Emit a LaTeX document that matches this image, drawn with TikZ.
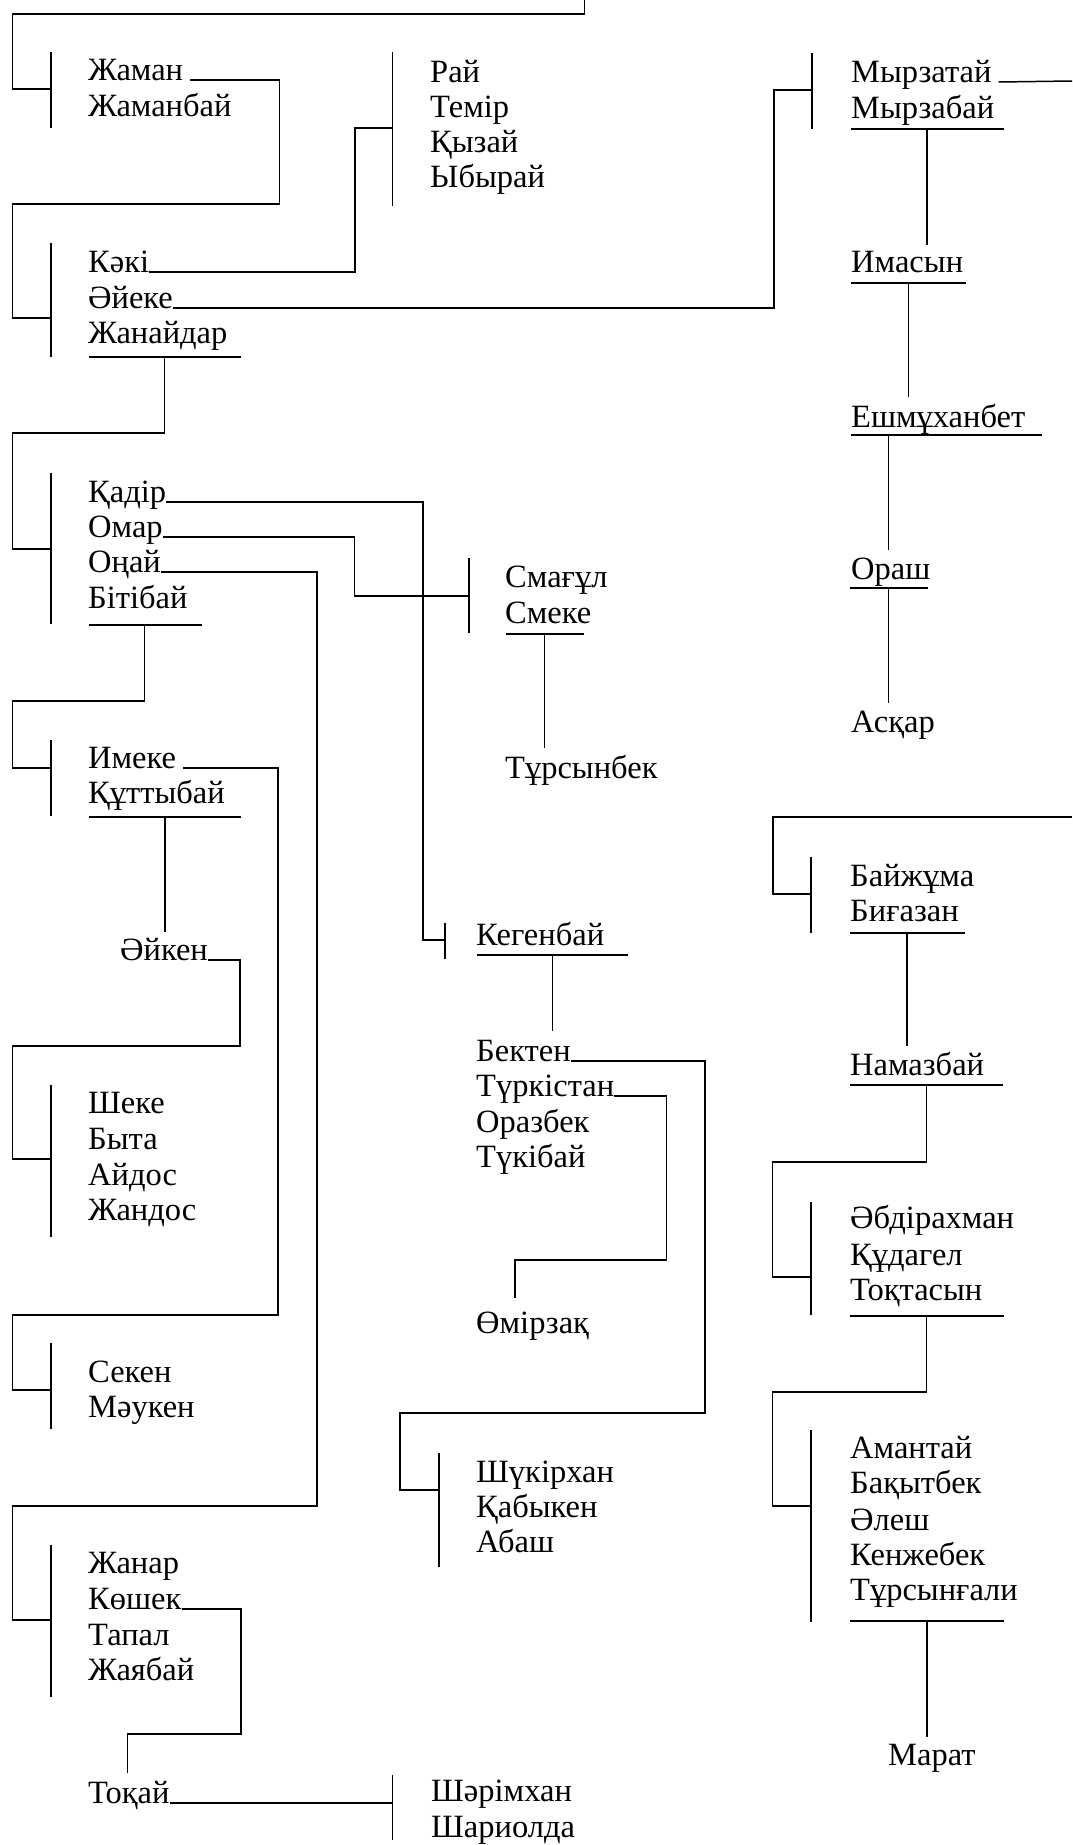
\documentclass[tikz,border=0pt]{standalone}
\usepackage{fontspec}
\setmainfont{Liberation Serif}
\usetikzlibrary{positioning}

\begin{document}
\begin{tikzpicture}[
  x=1pt,y=-1pt,
  font=\fontsize{32.5}{36}\selectfont,
  kin/.style={anchor=base west,inner sep=0pt},
  link/.style={line width=1.5pt},
  gap/.style={xshift=7pt}
]
\useasboundingbox (0,0) rectangle (1073,1845);

% names, left column
\node[kin] (zhaman) at (88,80) {Жаман};
\node[kin] (zhamanbai) at (88,116) {Жаманбай};
\node[kin] (kaki) at (88,272) {Кәкі};
\node[kin] (aieke) at (88,308) {Әйеке};
\node[kin] (zhanaidar) at (88,343) {Жанайдар};
\node[kin] (kadir) at (88,502) {Қадір};
\node[kin] (omar) at (88,537) {Омар};
\node[kin] (onai) at (88,572) {Оңай};
\node[kin] (bitibai) at (88,608) {Бітібай};
\node[kin] (imeke) at (88,768) {Имеке};
\node[kin] (kuttybai) at (88,803) {Құттыбай};
\node[kin] (aiken) at (120,960) {Әйкен};
\node[kin] (sheke) at (88,1113) {Шеке};
\node[kin] (byta) at (88,1149) {Быта};
\node[kin] (aidos) at (88,1185) {Айдос};
\node[kin] (zhandos) at (88,1220) {Жандос};
\node[kin] (seken) at (88,1382) {Секен};
\node[kin] (mauken) at (88,1417) {Мәукен};
\node[kin] (zhanar) at (88,1573) {Жанар};
\node[kin] (koshek) at (88,1609) {Көшек};
\node[kin] (tapal) at (88,1645) {Тапал};
\node[kin] (zhayabai) at (88,1680) {Жаябай};
\node[kin] (tokai) at (88,1803) {Тоқай};

% names, middle
\node[kin] (rai) at (430,82) {Рай};
\node[kin] (temir) at (430,117) {Темір};
\node[kin] (qyzai) at (430,152) {Қызай};
\node[kin] (ybyrai) at (430,187) {Ыбырай};
\node[kin] (smagul) at (505,587) {Смағұл};
\node[kin] (smeke) at (505,623) {Смеке};
\node[kin] (tursynbek) at (505,778) {Тұрсынбек};
\node[kin] (kegenbai) at (476,945) {Кегенбай};
\node[kin] (bekten) at (476,1061) {Бектен};
\node[kin] (turkistan) at (476,1096) {Түркістан};
\node[kin] (orazbek) at (476,1132) {Оразбек};
\node[kin] (tukibai) at (476,1167) {Түкібай};
\node[kin] (omirzak) at (476,1333) {Өмірзақ};
\node[kin] (shukirkhan) at (476,1482) {Шүкірхан};
\node[kin] (kabyken) at (476,1517) {Қабыкен};
\node[kin] (abash) at (476,1552) {Абаш};
\node[kin] (sharimkhan) at (431,1801) {Шәрімхан};
\node[kin] (shariolda) at (431,1837) {Шариолда};

% names, right column
\node[kin] (myrzatai) at (851,82) {Мырзатай};
\node[kin] (myrzabai) at (851,118) {Мырзабай};
\node[kin] (imasyn) at (851,272) {Имасын};
\node[kin] (eshmukhanbet) at (851,427) {Ешмұханбет};
\node[kin] (orash) at (851,579) {Ораш};
\node[kin] (askar) at (851,732) {Асқар};
\node[kin] (baizhuma) at (850,886) {Байжұма};
\node[kin] (bigazan) at (850,921) {Биғазан};
\node[kin] (namazbai) at (850,1075) {Намазбай};
\node[kin] (abdirakhman) at (850,1228) {Әбдірахман};
\node[kin] (kudagel) at (850,1265) {Құдагел};
\node[kin] (toktasyn) at (850,1300) {Тоқтасын};
\node[kin] (amantai) at (850,1458) {Амантай};
\node[kin] (bakytbek) at (850,1493) {Бақытбек};
\node[kin] (alesh) at (850,1530) {Әлеш};
\node[kin] (kenzhebek) at (850,1565) {Кенжебек};
\node[kin] (tursyngali) at (850,1600) {Тұрсынғали};
\node[kin] (marat) at (888,1765) {Марат};

% loose ends at the page edge
\coordinate (topend) at (584.7,0);
\coordinate (myrzaend) at (1072,81);
\coordinate (baizhend) at (1072,817);

% brackets
\draw[link] (51,52) -- (51,128);
\draw[link] (51,243) -- (51,357);
\draw[link] (392.6,52) -- (392.6,206);
\draw[link] (812,53) -- (812,129);
\draw[link] (51,473) -- (51,624);
\draw[link] (469,558) -- (469,633);
\draw[link] (51,740) -- (51,816);
\draw[link] (445,923) -- (445,959);
\draw[link] (51,1085) -- (51,1237);
\draw[link] (51,1343) -- (51,1429);
\draw[link] (439,1453) -- (439,1567);
\draw[link] (51,1545) -- (51,1697);
\draw[link] (392.6,1775) -- (392.6,1840);
\draw[link] (811,857) -- (811,933);
\draw[link] (811,1202) -- (811,1315);
\draw[link] (811,1430) -- (811,1622);

% underlines
\draw[link] (89,357) -- (241,357);
\draw[link] (89,625) -- (202,625);
\draw[link] (89,817) -- (241,817);
\draw[link] (506,634) -- (583.7,634);
\draw[link] (477,955) -- (628,955);
\draw[link] (851,129) -- (1003.7,129);
\draw[link] (851,283) -- (965.6,283);
\draw[link] (851,435) -- (1041.8,435);
\draw[link] (850,588) -- (927.5,588);
\draw[link] (850,933) -- (965,933);
\draw[link] (850,1085) -- (1003,1085);
\draw[link] (850,1316) -- (1003.7,1316);
\draw[link] (850,1621) -- (1003.7,1621);

% connectors
\draw[link] (topend) |- (12.7,14) |- (51,89);
\draw[link] ([gap]zhaman.base east) -| (279.6,204) -| (12.7,318) -- (51,318);
\draw[link] (kaki.base east) -| (355,128) -- (392.6,128);
\draw[link] (aieke.base east) -| (774,90) -- (812,90);
\draw[link] ([gap]myrzatai.base east) -- (myrzaend);
\draw[link] (164.6,357) |- (12.7,433) |- (51,549);
\draw[link] (kadir.base east) -| (423,940) -- (445,940);
\draw[link] (omar.base east) -| (354.7,596) -- (469,596);
\draw[link] (onai.base east) -| (316.8,1506) -| (12.7,1620) -- (51,1620);
\draw[link] (144.6,625) |- (12.7,701) |- (51,768);
\draw[link] ([gap]imeke.base east) -| (278,1315) -| (12.7,1390) -- (51,1390);
\draw[link] (165,817) -- (165,932);
\draw[link] (aiken.base east) -| (240,1046) -| (12.7,1159) -- (51,1159);
\draw[link] (544.5,634) -- (544.5,748);
\draw[link] (552.3,955) -- (552.3,1031);
\draw[link] (bekten.base east) -| (705,1413) -| (400,1490) -- (439,1490);
\draw[link] (turkistan.base east) -| (666.7,1260) -| (515,1298);
\draw[link] (koshek.base east) -| (241,1734) -| (127.4,1773);
\draw[link] (tokai.base east) -- (392.6,1803);
\draw[link] (927,129) -- (927,245);
\draw[link] (908.5,283) -- (908.5,397);
\draw[link] (888.4,435) -- (888.4,550);
\draw[link] (888.4,588) -- (888.4,703);
\draw[link] (baizhend) -| (773,894) -- (811,894);
\draw[link] (907,933) -- (907,1046);
\draw[link] (926.5,1085) |- (772.4,1162) |- (811,1277);
\draw[link] (926.5,1316) |- (772.4,1392) |- (811,1506);
\draw[link] (927,1621) -- (927,1737);
\end{tikzpicture}
\end{document}
